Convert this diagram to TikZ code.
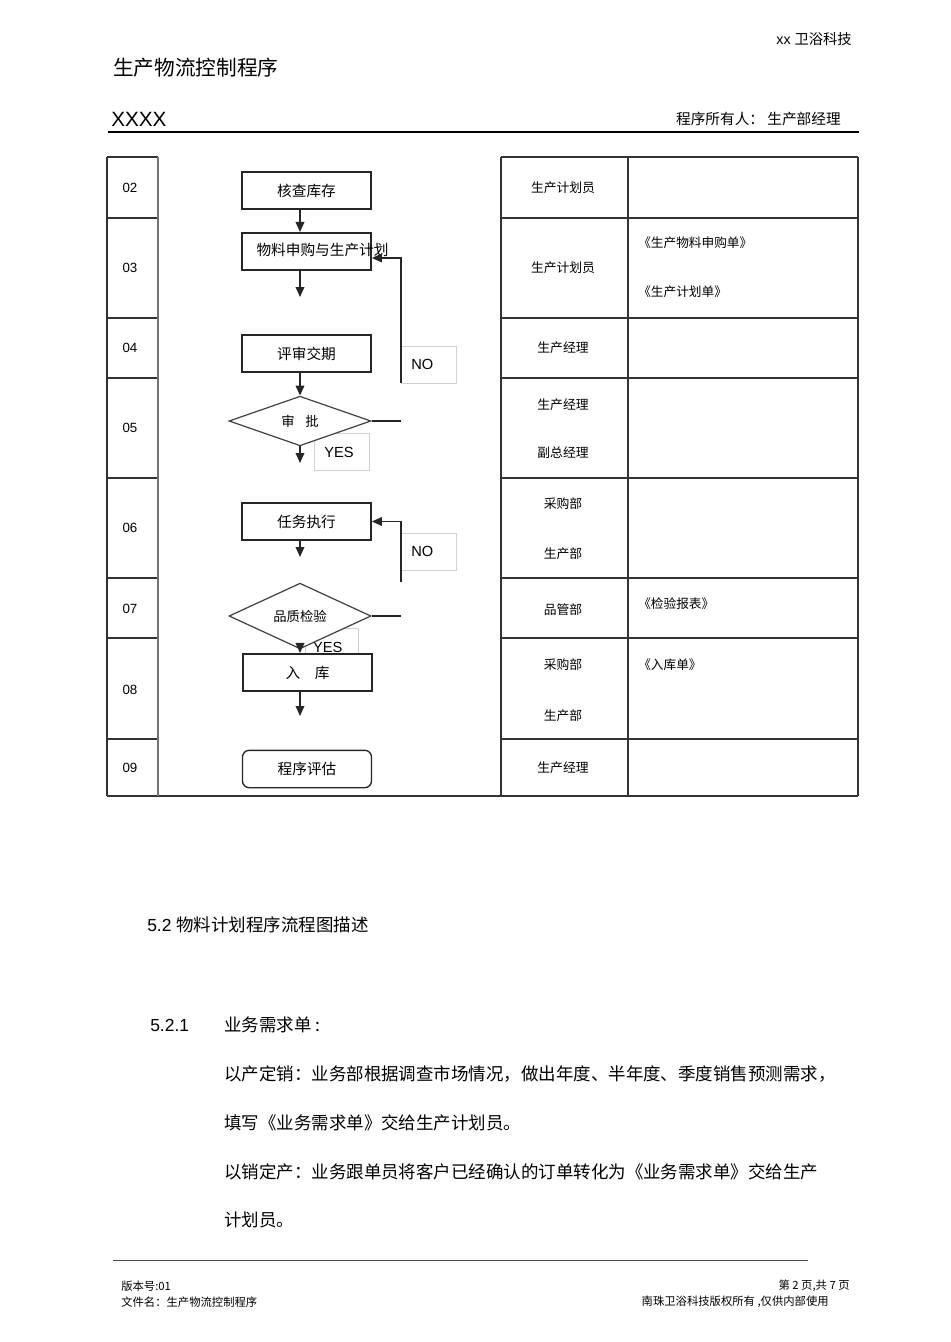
\documentclass[tikz,border=0pt]{standalone}
\usepackage{fontspec}
\setmainfont{Liberation Sans}
\newfontfamily\cjk{Noto Sans CJK SC}
\usetikzlibrary{shapes.geometric, arrows.meta, positioning, calc}
\tikzset{
  flowbox/.style={rectangle, draw=black!85, line width=1.3pt, fill=white,
    minimum width=96.75pt, minimum height=28pt, inner sep=0pt,
    text centered, font=\cjk\fontsize{11}{13}\selectfont},
  endbox/.style={flowbox, rounded corners=5pt, line width=1pt},
  decision/.style={diamond, draw=black!75, line width=0.9pt, fill=white,
    minimum width=106.5pt, minimum height=36pt, inner sep=0pt,
    text centered, font=\cjk\fontsize{10}{12}\selectfont},
  notebox/.style={rectangle, draw=black!18, line width=0.5pt, fill=white,
    minimum height=27.5pt, inner xsep=7.5pt, inner ysep=0pt,
    text width=26.5pt, align=left, font=\fontsize{11}{13}\selectfont},
  numtxt/.style={inner sep=0pt, font=\fontsize{10}{12}\selectfont},
  roletxt/.style={inner sep=0pt, font=\cjk\fontsize{9.6}{11}\selectfont},
  doctxt/.style={inner sep=0pt, anchor=west, font=\cjk\fontsize{9.5}{11}\selectfont},
  bodytxt/.style={inner sep=0pt, anchor=west, font=\fontsize{13.1}{15}\selectfont},
  foottxt/.style={inner sep=0pt, font=\cjk\fontsize{8.5}{10}\selectfont},
  arr/.style={-{Triangle[length=7.5pt, width=6.5pt]}, line width=1pt, draw=black!85},
  link/.style={line width=1pt, draw=black!85},
  tline/.style={line width=0.8pt, draw=black!80},
}

\begin{document}
\begin{tikzpicture}[x=0.75pt, y=-0.75pt]
  \useasboundingbox (0,0) rectangle (950,1342);

  % Header
  \node[inner sep=0pt, anchor=east, font=\fontsize{10.7}{12}\selectfont] (company) at (852,39) {xx \cjk 卫浴科技};
  \node[inner sep=0pt, anchor=west, font=\cjk\fontsize{15.5}{18}\selectfont] (title) at (113,68) {生产物流控制程序};
  \node[inner sep=0pt, anchor=west, font=\fontsize{15.5}{18}\selectfont] (code) at (111,119) {XXXX};
  \node[inner sep=0pt, anchor=east, font=\cjk\fontsize{11}{13}\selectfont] (owner) at (841,119) {程序所有人：~生产部经理};
  \draw[line width=1.6pt] (108,132) -- (859,132);

  % Table grid
  \foreach \y in {157,218,318,378,478,578,638,739}
    \draw[tline] (107,\y) -- (158,\y) (501,\y) -- (858,\y);
  \draw[tline] (107,796) -- (858,796);
  \foreach \x in {107,501,628,858}
    \draw[tline] (\x,157) -- (\x,796);
  \draw[tline, draw=black!55] (158,157) -- (158,796);

  % Step numbers
  \foreach \n/\y in {02/188,03/268,04/348,05/428,06/528,07/609,08/690,09/768}
    \node[numtxt] (num\n) at (130,\y) {\n};

  % Roles
  \node[roletxt] (role02) at (563,188) {生产计划员};
  \node[roletxt] (role03) at (563,268) {生产计划员};
  \node[roletxt] (role04) at (563,348) {生产经理};
  \node[roletxt] (role05a) at (563,405) {生产经理};
  \node[roletxt] (role05b) at (563,453) {副总经理};
  \node[roletxt] (role06a) at (563,504) {采购部};
  \node[roletxt] (role06b) at (563,554) {生产部};
  \node[roletxt] (role07) at (563,610) {品管部};
  \node[roletxt] (role08a) at (563,665) {采购部};
  \node[roletxt] (role08b) at (563,716) {生产部};
  \node[roletxt] (role09) at (563,768) {生产经理};

  % Documents
  \node[doctxt] (doc03a) at (638,243) {《生产物料申购单》};
  \node[doctxt] (doc03b) at (638,292) {《生产计划单》};
  \node[doctxt] (doc07) at (638,604) {《检验报表》};
  \node[doctxt] (doc08) at (638,665) {《入库单》};

  % Flow
  \coordinate (spine) at (300,0);
  \node[flowbox] (check) at (306.5,190.5) {核查库存};
  \node[flowbox, label={[font=\cjk\fontsize{11}{13}\selectfont, xshift=12pt, yshift=1pt]center:物料申购与生产计划}] (plan) at (306.5,251.5) {};
  \node[flowbox] (review) at (306.5,353.5) {评审交期};
  \node[notebox] (no1) at (429,364.5) {NO};
  \node[notebox] (yes1) at (342,452) {YES};
  \node[decision] (approve) at (300,421) {审\hspace{0.8em}批};
  \node[flowbox] (execute) at (306.5,521.5) {任务执行};
  \node[notebox] (no2) at (429,551.5) {NO};
  \node[notebox, text width=27.75pt, inner xsep=6pt, minimum height=28.5pt] (yes2) at (331.5,647) {YES};
  \node[decision] (inspect) at (300,616) {品质检验};
  \node[flowbox] (stock) at (307.5,672.5) {入\quad 库};
  \node[endbox] (evaluate) at (307,769) {程序评估};

  % Arrows
  \coordinate (tail1) at (300,297);
  \coordinate (tail2) at (300,463);
  \coordinate (tail3) at (300,557);
  \coordinate (tail4) at (300,716);
  \coordinate (side1) at (401,421);
  \coordinate (side2) at (401,616);
  \coordinate (foot2) at (401,582);
  \draw[arr] (check.south -| spine) -- (plan.north -| spine);
  \draw[arr] (plan.south -| spine) -- (tail1);
  \draw[arr] (review.south -| spine) -- (approve.north);
  \draw[arr] (approve.south) -- (tail2);
  \draw[arr] (execute.south -| spine) -- (tail3);
  \draw[arr] (inspect.south) -- (stock.north -| spine);
  \draw[arr] (stock.south -| spine) -- (tail4);
  \draw[link] (approve.east) -- (side1);
  \draw[link] (inspect.east) -- (side2);
  \draw[arr] (no1.south west) |- ($(plan.east)+(0,6.5)$);
  \draw[arr] (foot2) |- (execute.east);

  % Description
  \node[bodytxt] (sec) at (147,925) {5.2 \cjk 物料计划程序流程图描述};
  \node[bodytxt] (subsec) at (150,1025) {5.2.1};
  \node[bodytxt] (line0) at (224,1025) {\cjk 业务需求单 :};
  \node[bodytxt] (line1) at (224,1074) {\cjk 以产定销：业务部根据调查市场情况，做出年度、半年度、季度销售预测需求，};
  \node[bodytxt] (line2) at (224,1123) {\cjk 填写《业务需求单》交给生产计划员。};
  \node[bodytxt] (line3) at (224,1172) {\cjk 以销定产：业务跟单员将客户已经确认的订单转化为《业务需求单》交给生产};
  \node[bodytxt] (line4) at (224,1220) {\cjk 计划员。};

  % Footer
  \draw[line width=0.6pt, draw=black!70] (113,1260) -- (808,1260);
  \node[foottxt, anchor=west] (version) at (121,1286) {版本号:01};
  \node[foottxt, anchor=west] (fname) at (121,1302) {文件名：生产物流控制程序};
  \node[foottxt, anchor=east] (page) at (850,1286) {第 2 页,共 7 页};
  \node[foottxt, anchor=east] (rights) at (829,1302) {南珠卫浴科技版权所有 ,仅供内部使用};
\end{tikzpicture}
\end{document}
